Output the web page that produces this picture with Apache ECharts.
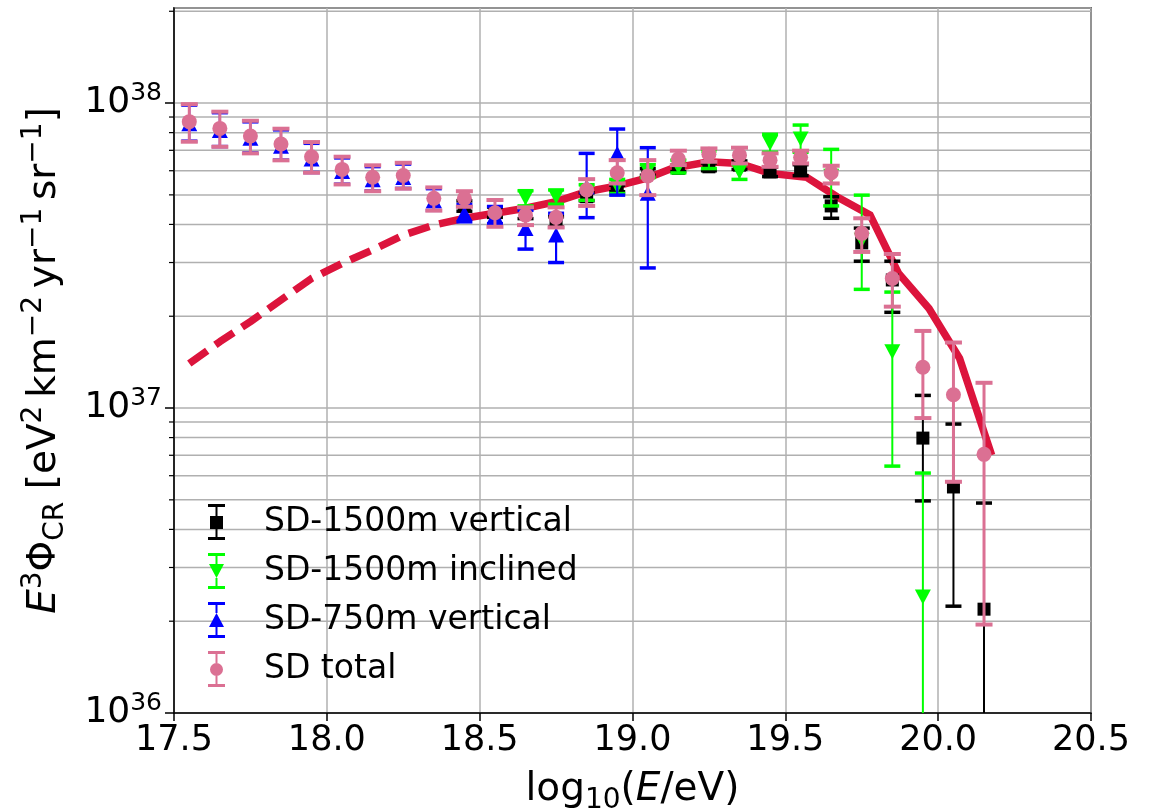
<!DOCTYPE html>
<html>
<head>
<meta charset="utf-8">
<script src="https://cdn.jsdelivr.net/npm/echarts@6/dist/echarts.min.js"></script>
<style>
  html, body { margin: 0; padding: 0; background: #fff; }
  #chart { width: 1151px; height: 808px; }
</style>
</head>
<body>
<div id="chart"></div>
<script>
// bin centres, log10(E/eV)
const energy = [17.55, 17.65, 17.75, 17.85, 17.95, 18.05, 18.15, 18.25, 18.35, 18.45, 18.55, 18.65, 18.75, 18.85,
  18.95, 19.05, 19.15, 19.25, 19.35, 19.45, 19.55, 19.65, 19.75, 19.85, 19.95, 20.05, 20.15];

// SD total
const totalFlux = [8.69e37, 8.26e37, 7.80e37, 7.34e37, 6.67e37, 6.06e37, 5.71e37, 5.79e37, 4.87e37, 4.87e37, 4.37e37,
  4.29e37, 4.22e37, 5.19e37, 5.91e37, 5.77e37, 6.55e37, 6.80e37, 6.75e37, 6.50e37, 6.64e37, 5.91e37, 3.74e37, 2.66e37,
  1.36e37, 1.106e37, 7.05e36];
const totalLo = [7.47e37, 7.19e37, 6.84e37, 6.49e37, 5.91e37, 5.41e37, 5.14e37, 5.24e37, 4.44e37, 4.57e37, 3.93e37,
  3.98e37, 3.91e37, 4.60e37, 5.45e37, 4.99e37, 6.26e37, 6.42e37, 6.34e37, 6.18e37, 6.34e37, 5.45e37, 3.25e37, 2.15e37,
  9.27e36, 5.73e36, 1.95e36];
const totalHi = [9.92e37, 9.37e37, 8.75e37, 8.24e37, 7.45e37, 6.67e37, 6.25e37, 6.37e37, 5.29e37, 5.14e37, 4.81e37,
  4.55e37, 4.55e37, 5.63e37, 6.50e37, 6.50e37, 6.98e37, 7.10e37, 7.14e37, 6.84e37, 6.98e37, 6.23e37, 4.19e37, 3.20e37,
  1.79e37, 1.64e37, 1.21e37];

// SD-1500m vertical
const vert1500X = [18.45, 18.55, 18.65, 18.75, 18.85, 18.95, 19.05, 19.15, 19.25, 19.35, 19.45, 19.55, 19.65, 19.75,
  19.85, 19.95, 20.05, 20.15];
const vert1500Flux = [4.60e37, 4.39e37, 4.36e37, 4.08e37, 4.93e37, 5.25e37, 5.95e37, 6.11e37, 6.18e37, 6.26e37, 5.95e37,
  6.03e37, 4.60e37, 3.48e37, 2.63e37, 7.97e36, 5.51e36, 2.19e36];
const vert1500Lo = [4.42e37, 4.22e37, 4.18e37, 3.92e37, 4.78e37, 5.12e37, 5.80e37, 5.96e37, 6.00e37, 6.06e37, 5.74e37,
  5.78e37, 4.19e37, 3.03e37, 2.06e37, 4.96e36, 2.24e36, 5e35];
const vert1500Hi = [4.78e37, 4.56e37, 4.52e37, 4.24e37, 5.08e37, 5.38e37, 6.10e37, 6.26e37, 6.36e37, 6.46e37, 6.16e37,
  6.28e37, 4.93e37, 3.89e37, 3.03e37, 1.10e37, 8.86e36, 4.88e36];

// SD-1500m inclined
const incl1500X = [18.65, 18.75, 18.85, 18.95, 19.05, 19.15, 19.25, 19.35, 19.45, 19.55, 19.65, 19.75, 19.85, 19.95];
const incl1500Flux = [4.88e37, 4.93e37, 5.10e37, 5.34e37, 5.99e37, 6.18e37, 6.55e37, 5.95e37, 7.38e37, 7.62e37, 5.75e37,
  3.55e37, 1.53e37, 2.40e36];
const incl1500Lo = [4.60e37, 4.66e37, 4.80e37, 5.05e37, 5.70e37, 5.90e37, 6.10e37, 5.62e37, 6.90e37, 6.90e37, 4.60e37,
  2.45e37, 6.45e36, 1e35];
const incl1500Hi = [5.16e37, 5.19e37, 5.40e37, 5.62e37, 6.28e37, 6.50e37, 7.05e37, 6.30e37, 7.90e37, 8.47e37, 7.05e37,
  4.99e37, 2.40e37, 6.12e36];

// SD-750m vertical
const vert750X = [17.55, 17.65, 17.75, 17.85, 17.95, 18.05, 18.15, 18.25, 18.35, 18.45, 18.55, 18.65, 18.75, 18.85,
  18.95, 19.05];
const vert750Flux = [8.55e37, 8.13e37, 7.67e37, 7.22e37, 6.56e37, 5.96e37, 5.61e37, 5.70e37, 4.79e37, 4.35e37, 4.28e37,
  3.88e37, 3.69e37, 5.32e37, 6.84e37, 5.06e37];
const vert750Lo = [7.50e37, 7.20e37, 6.86e37, 6.50e37, 5.92e37, 5.42e37, 5.15e37, 5.25e37, 4.45e37, 4.08e37, 4.02e37,
  3.32e37, 3.00e37, 4.21e37, 4.99e37, 2.88e37];
const vert750Hi = [9.85e37, 9.30e37, 8.68e37, 8.17e37, 7.38e37, 6.61e37, 6.19e37, 6.31e37, 5.24e37, 4.65e37, 4.58e37,
  4.45e37, 4.35e37, 6.84e37, 8.22e37, 7.14e37];

// model curve (dashed below the fit range, solid inside)
const modelDashX = [17.55, 17.65, 17.75, 17.85, 17.95, 18.05, 18.15, 18.25, 18.35, 18.45];
const modelDashY = [1.40e37, 1.65e37, 1.92e37, 2.26e37, 2.66e37, 2.98e37, 3.30e37, 3.69e37, 3.98e37, 4.19e37];
const modelX = [18.45, 18.55, 18.65, 18.75, 18.85, 18.95, 19.05, 19.13, 19.25, 19.35, 19.45, 19.57, 19.67, 19.777,
  19.87, 19.97, 20.07, 20.175];
const modelY = [4.19e37, 4.35e37, 4.52e37, 4.75e37, 5.12e37, 5.35e37, 5.68e37, 6.11e37, 6.42e37, 6.34e37, 5.88e37,
  5.71e37, 4.92e37, 4.30e37, 2.77e37, 2.12e37, 1.455e37, 7.01e36];

// minor log grid values
const minorTicks = [2e36, 3e36, 4e36, 5e36, 6e36, 7e36, 8e36, 9e36,
  2e37, 3e37, 4e37, 5e37, 6e37, 7e37, 8e37, 9e37, 2e38];

const font = 'DejaVu Sans';
const gridColor = '#b0b0b0';

let zip = (a, b) => a.map((v, i) => [v, b[i]]);

function errorBars(name, xs, lo, hi, color, stemW, capW, capT, z) {
  return {
    type: 'custom',
    name: name,
    z: z,
    silent: true,
    data: xs.map((x, i) => [x, lo[i], hi[i]]),
    encode: { x: 0, y: [1, 2] },
    renderItem: (params, api) => {
      let x = api.value(0)
      let pl = api.coord([x, api.value(1)])
      let ph = api.coord([x, api.value(2)])
      let cs = params.coordSys
      let top = cs.y, bottom = cs.y + cs.height
      let children = [{
        type: 'line',
        shape: { x1: pl[0], y1: Math.max(ph[1], top), x2: pl[0], y2: Math.min(pl[1], bottom) },
        style: { stroke: color, lineWidth: stemW }
      }]
      ;[ph[1], pl[1]].forEach(y => {
        if (y >= top && y <= bottom) {
          children.push({
            type: 'line',
            shape: { x1: pl[0] - capW / 2, y1: y, x2: pl[0] + capW / 2, y2: y },
            style: { stroke: color, lineWidth: capT }
          })
        }
      })
      return { type: 'group', children: children }
    }
  }
}

const icons = {
  square: 'path://M0,0H17V3H0Z M7.5,3H9.5V12H7.5Z M2,12H15V25H2Z M7.5,25H9.5V33H7.5Z M0,33H17V36H0Z',
  down: 'path://M0,0H17V3H0Z M7.5,3H9.5V11H7.5Z M1,11H16L8.5,25Z M7.5,25H9.5V33H7.5Z M0,33H17V36H0Z',
  up: 'path://M0,0H17V3H0Z M7.5,3H9.5V11H7.5Z M8.5,11L16,25H1Z M7.5,25H9.5V33H7.5Z M0,33H17V36H0Z',
  circle: 'path://M0,0H17V3H0Z M7.5,3H9.5V12H7.5Z M2,18.5A6.5,6.5 0 1 1 15,18.5A6.5,6.5 0 1 1 2,18.5Z M7.5,25H9.5V33H7.5Z M0,33H17V36H0Z'
};

const richBase = {
  n: { fontSize: 39, lineHeight: 50, fontFamily: font, color: '#000', verticalAlign: 'middle' },
  it: { fontSize: 39, lineHeight: 50, fontFamily: font, color: '#000', fontStyle: 'italic', verticalAlign: 'middle' },
  sup: { fontSize: 28, lineHeight: 27, fontFamily: font, color: '#000', verticalAlign: 'top' },
  sub: { fontSize: 28, lineHeight: 34, fontFamily: font, color: '#000', verticalAlign: 'bottom' }
};

let chart = echarts.init(document.getElementById('chart'), null, { renderer: 'canvas' });

let option = {
  backgroundColor: '#fff',
  animation: false,
  grid: {
    left: 174, right: 60, top: 8, bottom: 95,
    outerBoundsMode: 'none',
    show: true, borderColor: '#000', borderWidth: 1.5, backgroundColor: '#fff'
  },
  legend: {
    orient: 'vertical',
    left: 203, top: 499,
    itemWidth: 17, itemHeight: 36, itemGap: 13,
    selectedMode: false,
    textStyle: { fontSize: 33, fontFamily: font, color: '#000', padding: [0, 0, 0, 34] },
    data: [
      { name: 'SD-1500m vertical', icon: icons.square },
      { name: 'SD-1500m inclined', icon: icons.down },
      { name: 'SD-750m vertical', icon: icons.up },
      { name: 'SD total', icon: icons.circle }
    ]
  },
  xAxis: {
    type: 'value',
    min: 17.5, max: 20.5, interval: 0.5,
    name: '{n|log}{sub|10}{n|(}{it|E}{n|/eV)}',
    nameLocation: 'middle', nameGap: 52,
    nameTextStyle: { rich: richBase },
    axisLine: { lineStyle: { color: '#000', width: 1.5 } },
    axisTick: { inside: false, length: 8, lineStyle: { color: '#000', width: 1.5 } },
    axisLabel: {
      fontSize: 35, fontFamily: font, color: '#000', margin: 10,
      formatter: v => v.toFixed(1)
    },
    splitLine: { show: true, lineStyle: { color: gridColor, width: 1.5 } }
  },
  yAxis: {
    type: 'log', logBase: 10,
    min: 1e36, max: 2.05e38,
    name: '{it|E}{sup|3}{n|Φ}{sub|CR}{n| [eV}{sup|2}{n|\u2009km}{sup|−2}{n|\u2009yr}{sup|−1}{n|\u2009sr}{sup|−1}{n|]}',
    nameLocation: 'middle', nameGap: 104, nameRotate: 90,
    nameTextStyle: { rich: richBase },
    axisLine: { lineStyle: { color: '#000', width: 1.5 } },
    axisTick: { inside: false, length: 9, lineStyle: { color: '#000', width: 1.5 } },
    axisLabel: {
      showMaxLabel: false, margin: 12,
      formatter: v => {
        let e = Math.log10(v)
        if (Math.abs(e - Math.round(e)) > 1e-6) return ''
        return '{b|10}{s|' + Math.round(e) + '}'
      },
      rich: {
        b: { fontSize: 36, lineHeight: 44, fontFamily: font, color: '#000', verticalAlign: 'middle' },
        s: { fontSize: 25, lineHeight: 25, fontFamily: font, color: '#000', verticalAlign: 'top' }
      }
    },
    splitLine: { show: true, lineStyle: { color: gridColor, width: 1.5 } }
  },
  series: [
    {
      type: 'custom',
      name: 'minor grid',
      z: 0,
      silent: true,
      data: minorTicks.map(v => [17.5, v]),
      encode: { x: 0, y: 1 },
      renderItem: (params, api) => {
        let p0 = api.coord([17.5, api.value(1)])
        let p1 = api.coord([20.5, api.value(1)])
        return {
          type: 'group',
          children: [
            { type: 'line', shape: { x1: p0[0], y1: p0[1], x2: p1[0], y2: p1[1] }, style: { stroke: gridColor, lineWidth: 1.5 } },
            { type: 'line', shape: { x1: p0[0] - 5, y1: p0[1], x2: p0[0], y2: p0[1] }, style: { stroke: '#000', lineWidth: 1.2 } }
          ]
        }
      }
    },
    {
      type: 'line', name: 'model dashed', z: 1, silent: true,
      data: zip(modelDashX, modelDashY), showSymbol: false,
      lineStyle: { color: '#dc143c', width: 7.5, type: [22, 10], cap: 'butt' }
    },
    {
      type: 'line', name: 'model', z: 1, silent: true,
      data: zip(modelX, modelY), showSymbol: false,
      lineStyle: { color: '#dc143c', width: 7.5, join: 'miter' }
    },
    errorBars('vert1500 err', vert1500X, vert1500Lo, vert1500Hi, '#000', 2, 16, 3.5, 2),
    {
      type: 'scatter', name: 'SD-1500m vertical', z: 2,
      data: zip(vert1500X, vert1500Flux),
      symbol: 'rect', symbolSize: 13,
      itemStyle: { color: '#000', opacity: 1 }
    },
    errorBars('incl1500 err', incl1500X, incl1500Lo, incl1500Hi, '#00ff00', 2, 16, 3.5, 3),
    {
      type: 'scatter', name: 'SD-1500m inclined', z: 3,
      data: zip(incl1500X, incl1500Flux),
      symbol: 'triangle', symbolRotate: 180, symbolSize: [16, 15],
      itemStyle: { color: '#00ff00', opacity: 1 }
    },
    errorBars('vert750 err', vert750X, vert750Lo, vert750Hi, '#0000ff', 2.2, 16, 3.5, 4),
    {
      type: 'scatter', name: 'SD-750m vertical', z: 4,
      data: zip(vert750X, vert750Flux),
      symbol: 'triangle', symbolSize: [16, 15],
      itemStyle: { color: '#0000ff', opacity: 1 }
    },
    errorBars('total err', energy, totalLo, totalHi, '#db7093', 3, 17, 4, 5),
    {
      type: 'scatter', name: 'SD total', z: 5,
      data: zip(energy, totalFlux),
      symbol: 'circle', symbolSize: 15,
      itemStyle: { color: '#db7093', opacity: 1 }
    }
  ]
};

chart.setOption(option);
</script>
</body>
</html>
